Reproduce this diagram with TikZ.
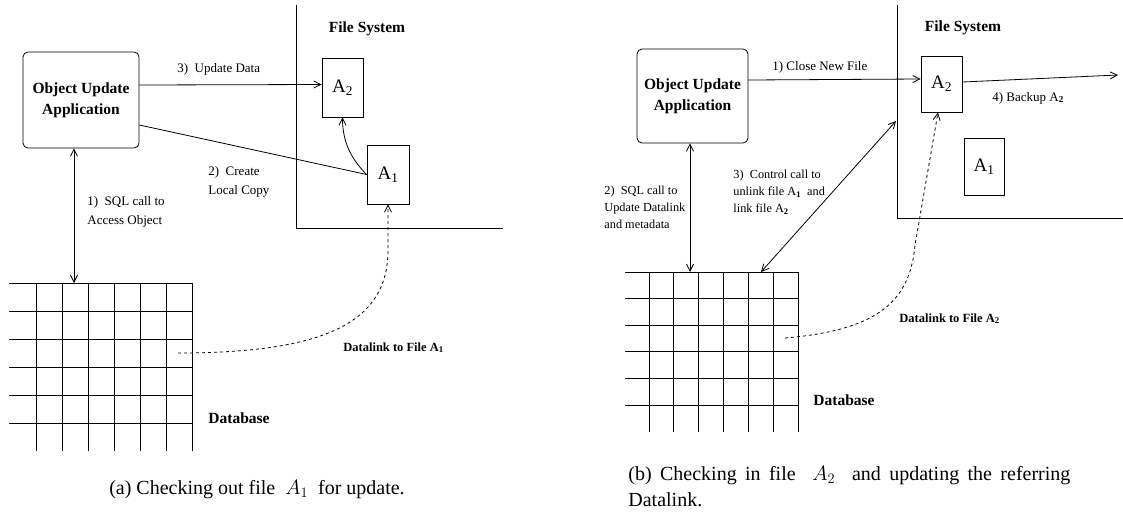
\documentclass[tikz,border=0pt]{standalone}
\usepackage{fontspec}
\setmainfont{Liberation Serif}
\usepackage{amsmath}
\usetikzlibrary{arrows.meta}

\tikzset{
    appbox/.style={draw, rounded corners=5pt, align=center, inner sep=0pt,
        font=\fontsize{15.5}{21}\selectfont\bfseries},
    filebox/.style={draw, inner sep=0pt, font=\fontsize{19}{20}\selectfont},
    lbl/.style={align=left, inner sep=0pt, font=\fontsize{13}{19}\selectfont},
    blbl/.style={inner sep=0pt, font=\fontsize{15.5}{18}\selectfont\bfseries},
    slbl/.style={inner sep=0pt, font=\fontsize{12.5}{14}\selectfont\bfseries},
    capt/.style={inner sep=0pt, align=left, font=\fontsize{20}{26}\selectfont},
    link/.style={-{Straight Barb[length=7pt,width=7pt]}},
    dlink/.style={{Straight Barb[length=7pt,width=7pt]}-{Straight Barb[length=7pt,width=7pt]}},
}

\begin{document}
\begin{tikzpicture}[x=1pt, y=-1pt, line width=0.8pt]
    \useasboundingbox (0,0) rectangle (1123,512);

    % (a) checking out
    \node[appbox, minimum width=116, minimum height=96] (appA) at (81,100)
        {Object Update\\Application};
    \node[filebox, minimum width=41, minimum height=59] (fa2A) at (342.5,87.5) {A\textsubscript{2}};
    \node[filebox, minimum width=42, minimum height=59] (fa1A) at (388,174.5) {A\textsubscript{1}};
    \coordinate (dbtopA) at (74,283);
    \coordinate (dlA) at (178,353);

    \draw
    (296,5) -- (296,228) -- (503,228)
    ;
    \foreach \x in {36,62,...,192}
        \draw (\x,283) -- (\x,451);
    \foreach \y in {283,311,...,423}
        \draw (9,\y) -- (192,\y);

    \draw[link] ([yshift=15pt]appA.east) -- ([yshift=3pt]fa2A.west);
    \draw ([yshift=-25pt]appA.east) -- (fa1A.west);
    \draw[link] (fa1A.west) .. controls +(-15,-15) and +(0,25) .. (fa2A.south);
    \draw[dlink] ([xshift=-7pt]appA.south) -- (dbtopA);
    \draw[link, dashed] (dlA) .. controls (330,353) and (388,320) .. (388,250) -- (fa1A.south);

    \node[lbl, anchor=base west] (updA) at (177,72) {3)\ \ Update Data};
    \node[lbl, anchor=north west] (copyA) at (208,166) {2)\ \ Create\\Local Copy};
    \node[lbl, anchor=north west] (sqlA) at (87,196) {1)\ \ SQL call to\\Access Object};
    \node[blbl] (fsA) at (367,29) {File System};
    \node[slbl, anchor=base west] (dlnA) at (343,351) {Datalink to File A\textsubscript{1}};
    \node[blbl, anchor=base west] (dbA) at (208,423) {Database};
    \node[capt, anchor=base] (capA) at (257,494) {(a) Checking out file \ $A_1$\ \ for update.};

    % (b) checking in
    \node[appbox, minimum width=111, minimum height=94] (appB) at (692.5,96)
        {Object Update\\Application};
    \node[filebox, minimum width=41, minimum height=56] (fa2B) at (941.5,84) {A\textsubscript{2}};
    \node[filebox, minimum width=40, minimum height=57] (fa1B) at (984,166.5) {A\textsubscript{1}};
    \coordinate (dbtopB) at (690,272);
    \coordinate (dbctlB) at (761,272);
    \coordinate (fsctlB) at (896,121);
    \coordinate (bkB) at (1118,75);
    \coordinate (dlB) at (785,338);

    \draw
    (897,5) -- (897,218) -- (1123,218)
    ;
    \foreach \i in {0,...,6}
        \draw (649+24.83*\i,272) -- (649+24.83*\i,432);
    \foreach \i in {0,...,5}
        \draw (625,272+26.6*\i) -- (798,272+26.6*\i);

    \draw[link] ([yshift=16pt]appB.east) -- ([yshift=5pt]fa2B.west);
    \draw[link] ([yshift=2pt]fa2B.east) -- (bkB);
    \draw[dlink] ([xshift=-2.5pt]appB.south) -- (dbtopB);
    \draw[dlink] (dbctlB) -- (fsctlB);
    \draw[link, dashed] (dlB) .. controls (880,330) and (910,300) .. (915,245) -- ([xshift=-3.5pt]fa2B.south);

    \node[lbl, anchor=base west] (closeB) at (772,70) {1) Close New File};
    \node[lbl, anchor=base west] (bkupB) at (992,101) {4) Backup A\textsubscript{\textbf{2}}};
    \node[lbl, anchor=north west, font=\fontsize{12.3}{17}\selectfont] (sqlB) at (604,186)
        {2)\ \ SQL call to\\Update Datalink\\and metadata};
    \node[lbl, anchor=north west, font=\fontsize{12.3}{17}\selectfont] (ctlB) at (733,170)
        {3)\ \ Control call to\\unlink file A\textsubscript{\textbf{1}}\ \ and\\link file A\textsubscript{\textbf{2}}};
    \node[blbl] (fsB) at (963,28) {File System};
    \node[slbl, anchor=base west] (dlnB) at (899,322) {Datalink to File A\textsubscript{2}};
    \node[blbl, anchor=base west] (dbB) at (813,405) {Database};
    \node[capt, anchor=north west] (capB) at (628,466)
        {\makebox[442pt][s]{(b) Checking in file \ $A_2$\ \ and updating the referring}\\Datalink.};

\end{tikzpicture}
\end{document}
